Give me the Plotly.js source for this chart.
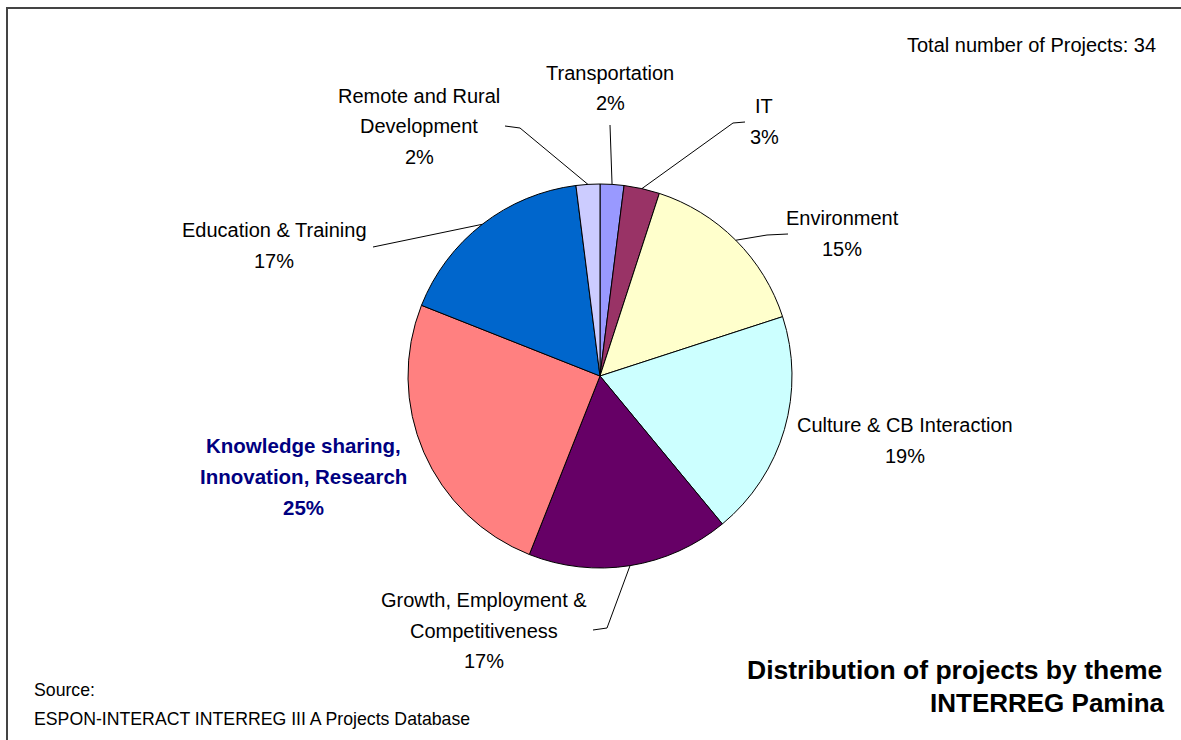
<!DOCTYPE html>
<html>
<head>
<meta charset="utf-8">
<script src="https://cdn.plot.ly/plotly-3.0.1.min.js"></script>
<style>html,body{margin:0;padding:0;background:#fff;}#chart{width:1181px;height:740px;}</style>
</head>
<body>
<div id="chart"></div>
<script>
// ---- data ----
const categories = ['Transportation', 'IT', 'Environment', 'Culture & CB Interaction',
  'Growth, Employment & Competitiveness', 'Knowledge sharing, Innovation, Research',
  'Education & Training', 'Remote and Rural Development'];
const shares = [2, 3, 15, 19, 17, 25, 17, 2];
const labelLines = [['Transportation'], ['IT'], ['Environment'], ['Culture & CB Interaction'],
  ['Growth, Employment &', 'Competitiveness'], ['Knowledge sharing,', 'Innovation, Research'],
  ['Education & Training'], ['Remote and Rural', 'Development']];
const totalProjects = 34;
const chartTitle = ['Distribution of projects by theme', 'INTERREG Pamina'];
const sourceLines = ['Source:', 'ESPON-INTERACT INTERREG III A Projects Database'];

// ---- styling / layout ----
const W = 1181, H = 740;
const colors = ['#9999FF', '#993366', '#FFFFCC', '#CCFFFF', '#660066', '#FF8080', '#0066CC', '#CCCCFF'];
const cx = 600, cy = 376, R = 192;
const labelPos = [[610, 73], [764, 106], [842, 218], [905, 425], [484, 600], [303, 446], [274, 230], [419, 96]];
const boldLabel = [false, false, false, false, false, true, false, false];
const leaderElbows = [[[610, 125]], [[733, 123], [745, 122]], [[767, 235], [788, 234]], null,
  [[607, 628], [593, 630]], null, [[373, 247]], [[520, 128], [505, 126]]];
const lineGap = 30.5;
const FONT = 'Liberation Sans, Arial, sans-serif';

const px = x => x / W;
const py = y => 1 - y / H;

const total = shares.reduce((a, b) => a + b, 0);
const annotations = [];
const shapes = [];
let cum = 0;
shares.forEach((v, i) => {
  const mid = (cum + v / 2) / total * 2 * Math.PI;
  cum += v;
  const pct = Math.round(v / total * 100) + '%';
  const lines = labelLines[i].concat([pct]);
  lines.forEach((t, k) => {
    annotations.push({
      x: px(labelPos[i][0]), y: py(labelPos[i][1] + k * lineGap), xref: 'paper', yref: 'paper',
      text: boldLabel[i] ? '<b>' + t + '</b>' : t, showarrow: false, xanchor: 'center', yanchor: 'middle',
      font: {family: FONT, size: boldLabel[i] ? 20.5 : 20, color: boldLabel[i] ? '#000080' : '#000'}
    });
  });
  if (leaderElbows[i]) {
    const sx = cx + R * Math.sin(mid), sy = cy - R * Math.cos(mid);
    let p = 'M ' + px(sx) + ' ' + py(sy);
    leaderElbows[i].forEach(q => { p += ' L ' + px(q[0]) + ' ' + py(q[1]); });
    shapes.push({type: 'path', xref: 'paper', yref: 'paper', path: p, line: {color: '#000', width: 1}});
  }
});

annotations.push({x: px(1158), y: py(45), xref: 'paper', yref: 'paper', showarrow: false,
  xanchor: 'right', yanchor: 'middle', text: 'Total number of Projects: ' + totalProjects,
  font: {family: FONT, size: 20, color: '#000'}});
annotations.push({x: px(1164), y: py(670), xref: 'paper', yref: 'paper', showarrow: false,
  xanchor: 'right', yanchor: 'middle', text: '<b>' + chartTitle[0] + '</b>',
  font: {family: FONT, size: 26.5, color: '#000'}});
annotations.push({x: px(1167), y: py(703), xref: 'paper', yref: 'paper', showarrow: false,
  xanchor: 'right', yanchor: 'middle', text: '<b>' + chartTitle[1] + '</b>',
  font: {family: FONT, size: 26, color: '#000'}});
sourceLines.forEach((t, k) => {
  annotations.push({x: px(32), y: py(690 + k * 29), xref: 'paper', yref: 'paper', showarrow: false,
    xanchor: 'left', yanchor: 'middle', text: t, font: {family: FONT, size: 17.7, color: '#000'}});
});

// frame (left/top edge visible)
shapes.push({type: 'rect', xref: 'paper', yref: 'paper', x0: px(7), x1: px(1190), y0: py(750), y1: py(8),
  line: {color: '#444', width: 2}});

const trace = {
  type: 'pie', labels: categories, values: shares, sort: false, direction: 'clockwise', rotation: 0,
  marker: {colors: colors, line: {color: '#000', width: 1}},
  textinfo: 'none', hoverinfo: 'skip', showlegend: false,
  domain: {x: [px(cx - R), px(cx + R)], y: [py(cy + R), py(cy - R)]}
};

Plotly.newPlot('chart', [trace], {
  width: W, height: H, margin: {l: 0, r: 0, t: 0, b: 0},
  paper_bgcolor: '#fff', plot_bgcolor: '#fff', showlegend: false,
  annotations: annotations, shapes: shapes
}, {displayModeBar: false, staticPlot: true});
</script>
</body>
</html>
